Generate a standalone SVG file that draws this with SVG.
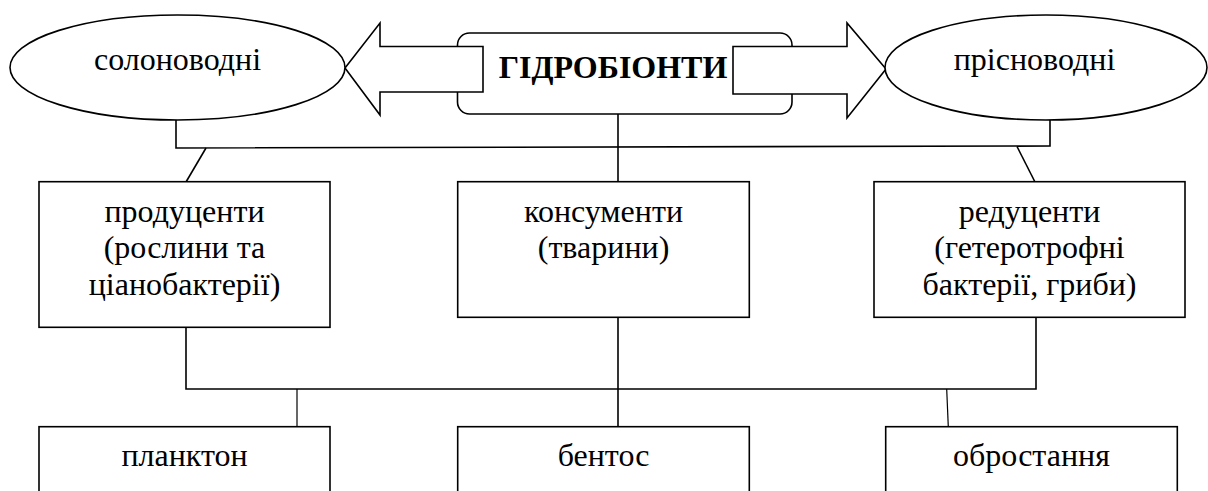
<svg xmlns="http://www.w3.org/2000/svg" width="1208" height="491" viewBox="0 0 1208 491">
<style>
.s{fill:#fff;stroke:#000;stroke-width:1.6}
.c{fill:none;stroke:#000;stroke-width:1.6}
.t{font-family:'Liberation Serif',serif;font-size:32px;fill:#000;text-anchor:middle}
.b{font-weight:bold}
</style>
<rect width="1208" height="491" fill="#fff"/>
<g id="connectors">
<path class="c" d="M176,120 V148 L1050,146 V120"/>
<path class="c" d="M206,148 L186,182"/>
<path class="c" d="M1017,146.5 L1035,182"/>
<path class="c" d="M618,114 V182"/>
<path class="c" d="M186,327 V389 H1036 V317"/>
<path class="c" d="M618,317 V427"/>
<path class="c" style="stroke-width:1.2" d="M297,389 V427"/>
<path class="c" style="stroke-width:1.2" d="M946.7,389 L948.3,427"/>
</g>
<g id="hydrobionts">
<rect class="s" x="457.5" y="33" width="334.5" height="81" rx="12" ry="12"/>
</g>
<g id="arrow-left">
<polygon class="s" points="345,68 380,23 380,46.5 483,46.5 483,92 380,92 380,115"/>
</g>
<g id="arrow-right">
<polygon class="s" points="733,46.5 847,46.5 847,23 886,69 847,118 847,94 733,94"/>
</g>
<text class="t b" x="613" y="78">ГІДРОБІОНТИ</text>
<g id="saltwater">
<ellipse class="s" cx="177.5" cy="67.5" rx="167.5" ry="52.5"/>
<text class="t" x="177.5" y="69.5">солоноводні</text>
</g>
<g id="freshwater">
<ellipse class="s" cx="1046" cy="67.5" rx="161" ry="52.5"/>
<text class="t" x="1034.5" y="69.5">прісноводні</text>
</g>
<g id="producers">
<rect class="s" x="39" y="181.7" width="291" height="145.6"/>
<text class="t" x="184.5" y="221.7">продуценти</text>
<text class="t" x="184.5" y="258.3">(рослини та</text>
<text class="t" x="184.5" y="295">ціанобактерії)</text>
</g>
<g id="consumers">
<rect class="s" x="457.7" y="181.7" width="291.6" height="135.6"/>
<text class="t" x="603.5" y="221.7">консументи</text>
<text class="t" x="603.5" y="258.3">(тварини)</text>
</g>
<g id="reducers">
<rect class="s" x="874" y="181.7" width="311" height="135.6"/>
<text class="t" x="1029.5" y="221.7">редуценти</text>
<text class="t" x="1029.5" y="258.3">(гетеротрофні</text>
<text class="t" x="1029.5" y="295">бактерії, гриби)</text>
</g>
<g id="plankton">
<rect class="s" x="39" y="426.7" width="291" height="80"/>
<text class="t" x="184.5" y="466">планктон</text>
</g>
<g id="benthos">
<rect class="s" x="457.7" y="426.7" width="291.6" height="80"/>
<text class="t" x="603.5" y="466">бентос</text>
</g>
<g id="fouling">
<rect class="s" x="885.7" y="426.7" width="291.6" height="80"/>
<text class="t" x="1031.5" y="466">обростання</text>
</g>
</svg>
